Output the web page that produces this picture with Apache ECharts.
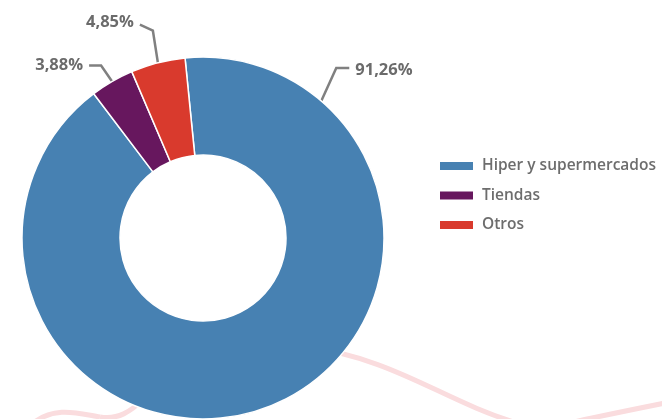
<!DOCTYPE html>
<html>
<head>
<meta charset="utf-8">
<script src="https://cdn.jsdelivr.net/npm/echarts@6/dist/echarts.min.js"></script>
<style>
  html, body { margin: 0; padding: 0; background: #ffffff; }
  #chart { width: 662px; height: 419px; }
</style>
</head>
<body>
<div id="chart"></div>
<script>
// Cuota de ventas por canal
const categories = ['Hiper y supermercados', 'Tiendas', 'Otros'];
const shares = [91.26, 3.88, 4.85];
const colors = ['#4781b2', '#67175e', '#d93a2d'];

// Pie geometry
const CENTER = [203, 238];
const R_IN = 83;
const R_OUT = 181;
const START_ANGLE = 95.7;

// Label callouts: anchor angle on the rim (null = slice middle) and leader offsets
const calloutAngle = [49.2, null, null];
const elbowOffset = [[15, -33], [-11, -16], [-5, -32]];
const endOffset = [[28, -33], [-23, -16], [-18, -38]];
const textSide = ['left', 'right', 'right'];

const total = shares.reduce((a, b) => a + b, 0);
function midAngle(i) {
  let before = 0;
  for (let k = 0; k < i; k++) before += shares[k];
  return START_ANGLE - (before + shares[i] / 2) / total * 360;
}
function fmt(v) { return v.toFixed(2).replace('.', ',') + '%'; }

const chart = echarts.init(document.getElementById('chart'), null, { renderer: 'canvas' });

// Decorative pink strokes behind the chart
const swirl = { stroke: '#fadcde', lineWidth: 5, fill: null };

chart.setOption({
  backgroundColor: '#ffffff',
  animation: false,
  graphic: [
    { type: 'bezierCurve', z: -1, shape: { x1: 300, y1: 345, cpx1: 400, cpy1: 360, cpx2: 440, cpy2: 400, x2: 520, y2: 424 }, style: swirl },
    { type: 'bezierCurve', z: -1, shape: { x1: 565, y1: 424, cpx1: 600, cpy1: 416, cpx2: 630, cpy2: 410, x2: 670, y2: 402 }, style: swirl },
    { type: 'bezierCurve', z: -1, shape: { x1: 32, y1: 424, cpx1: 55, cpy1: 405, cpx2: 80, cpy2: 414, x2: 100, y2: 417 }, style: swirl },
    { type: 'bezierCurve', z: -1, shape: { x1: 100, y1: 417, cpx1: 118, cpy1: 420, cpx2: 130, cpy2: 412, x2: 145, y2: 398 }, style: swirl }
  ],
  legend: {
    orient: 'vertical',
    left: 433,
    top: 153,
    itemWidth: 35,
    itemHeight: 10,
    itemGap: 13.5,
    icon: 'rect',
    data: categories,
    textStyle: {
      color: '#6d6d6d',
      fontSize: 15.5,
      fontFamily: 'Open Sans',
      fontWeight: 600,
      padding: [0, 0, 0, 3]
    }
  },
  series: [{
    type: 'pie',
    center: CENTER,
    radius: [R_IN, R_OUT],
    startAngle: START_ANGLE,
    clockwise: true,
    itemStyle: { borderColor: '#ffffff', borderWidth: 1.5 },
    label: {
      show: true,
      position: 'outside',
      formatter: p => fmt(p.value),
      color: '#6b6b6b',
      fontSize: 16.5,
      fontWeight: 700,
      fontFamily: 'Open Sans'
    },
    labelLine: {
      show: true,
      lineStyle: { color: '#808080', width: 2.5 }
    },
    labelLayout: function (p) {
      const i = p.dataIndex;
      const a = (calloutAngle[i] !== null ? calloutAngle[i] : midAngle(i)) * Math.PI / 180;
      const ax = CENTER[0] + R_OUT * Math.cos(a);
      const ay = CENTER[1] - R_OUT * Math.sin(a);
      const ex = ax + elbowOffset[i][0], ey = ay + elbowOffset[i][1];
      const tx = ax + endOffset[i][0], ty = ay + endOffset[i][1];
      const gap = 6;
      return {
        x: textSide[i] === 'left' ? tx + gap : tx - gap,
        y: ty + (i === 0 ? 2 : i === 2 ? -2 : 0),
        align: textSide[i],
        verticalAlign: 'middle',
        labelLinePoints: [[ax, ay], [ex, ey], [tx, ty]]
      };
    },
    data: categories.map((name, i) => ({
      name: name,
      value: shares[i],
      itemStyle: { color: colors[i] }
    }))
  }]
});
</script>
</body>
</html>
